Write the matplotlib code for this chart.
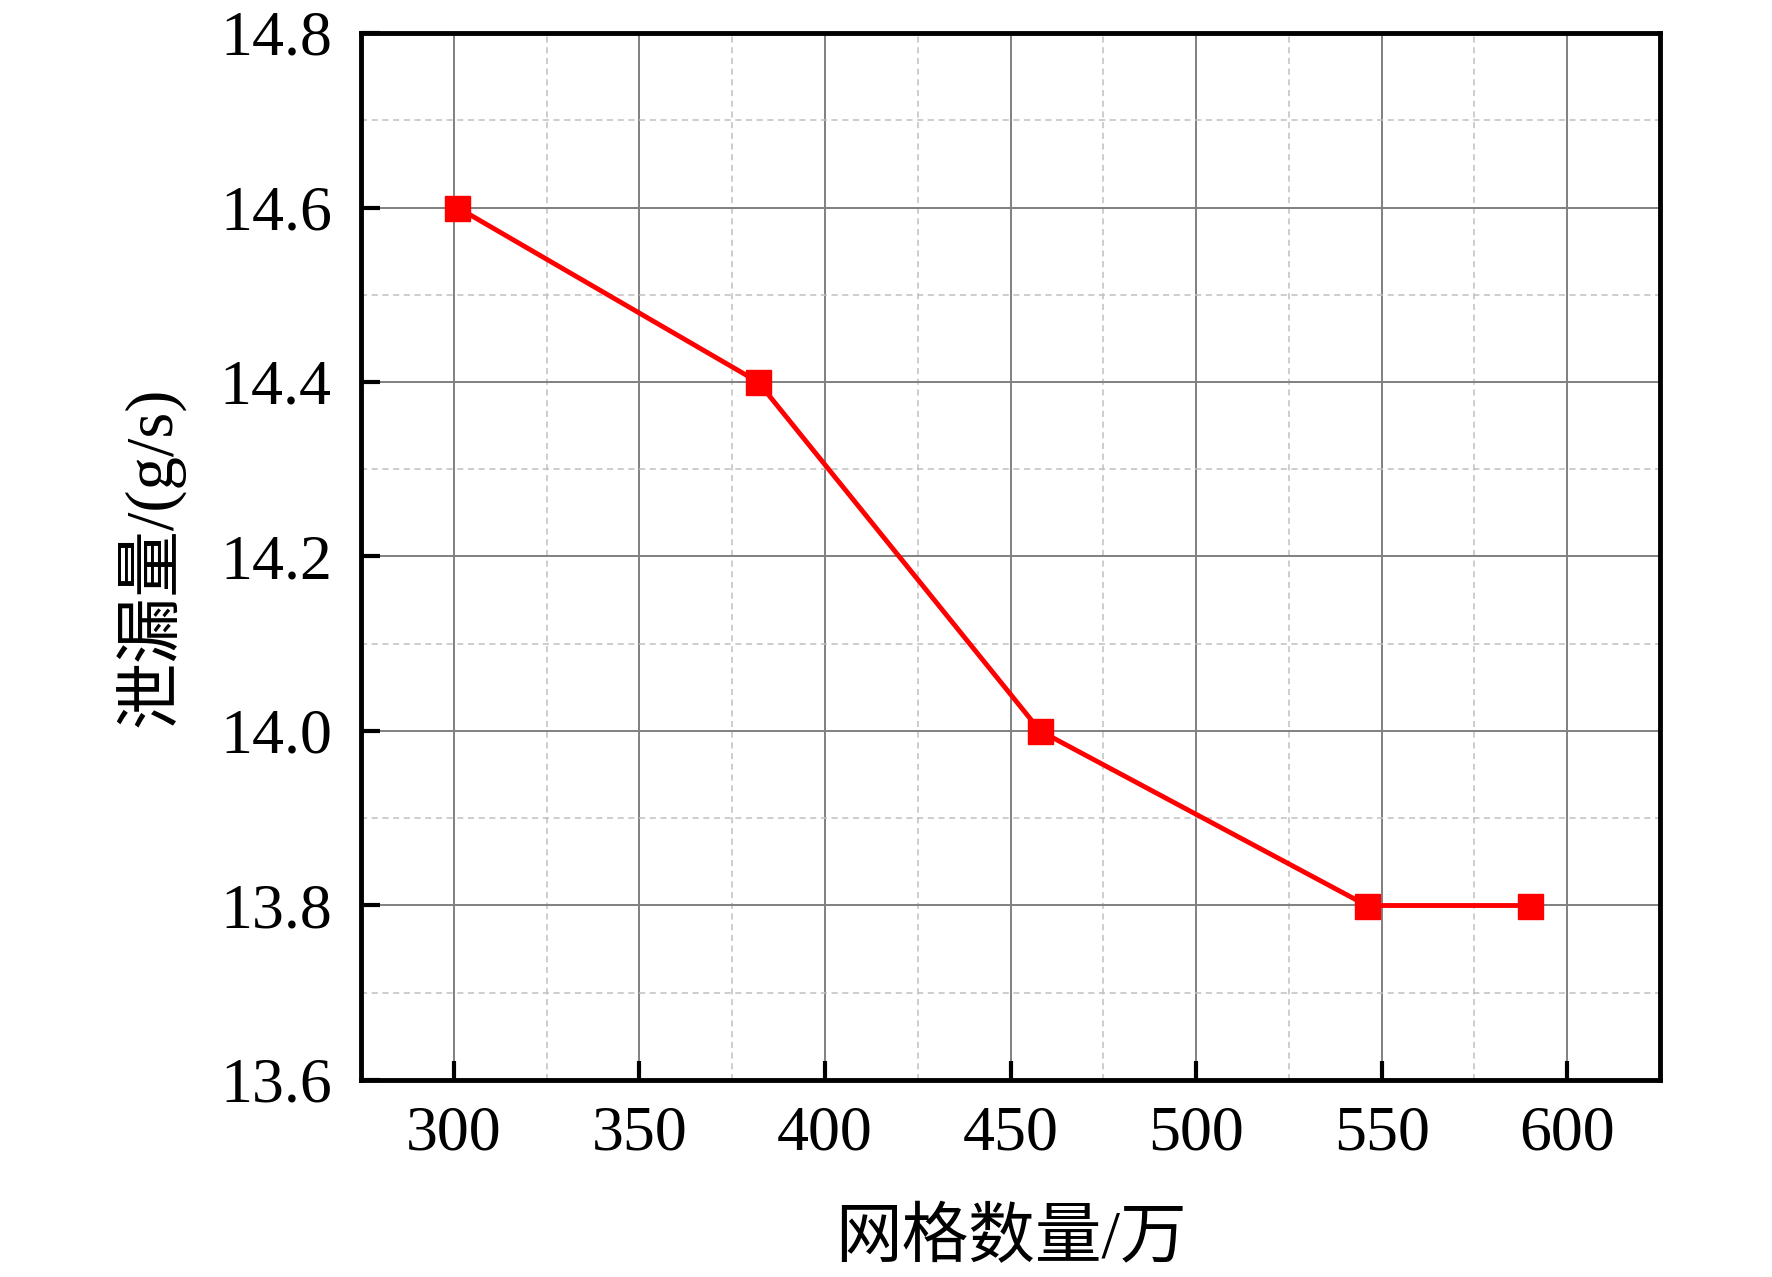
import matplotlib
matplotlib.use("Agg")
import matplotlib.pyplot as plt
from matplotlib.ticker import MultipleLocator, FormatStrFormatter

plt.rcParams['font.family'] = ['Liberation Serif', 'Noto Sans CJK SC', 'DejaVu Sans']

# data
grid_counts = [301, 382, 458, 546, 590]      # 网格数量/万
leakage = [14.6, 14.4, 14.0, 13.8, 13.8]     # 泄漏量/(g/s)
x_label = '网格数量/万'
y_label = '泄漏量/(g/s)'

fig = plt.figure(figsize=(17.72, 12.77), dpi=100)
ax = fig.add_axes([361/1772, 1 - 1080/1277, (1660-361)/1772, (1080-33)/1277])

ax.plot(grid_counts, leakage, color='#ff0000', lw=3.5, marker='s', ms=18,
        markerfacecolor='#ff0000', markeredgecolor='#ff0000', zorder=3)

ax.set_xlim(275, 625)
ax.set_ylim(13.6, 14.8)
ax.xaxis.set_major_locator(MultipleLocator(50))
ax.xaxis.set_minor_locator(MultipleLocator(25))
ax.yaxis.set_major_locator(MultipleLocator(0.2))
ax.yaxis.set_minor_locator(MultipleLocator(0.1))
ax.yaxis.set_major_formatter(FormatStrFormatter('%.1f'))

ax.grid(which='major', color='#808080', lw=1.4, ls='-', zorder=1)
ax.grid(which='minor', color='#c0c0c0', lw=1.1, ls=(0, (4, 3)), zorder=1)
ax.set_axisbelow(True)

for s in ax.spines.values():
    s.set_linewidth(3.5)
    s.set_color('black')

ax.tick_params(which='major', direction='in', length=14, width=3, top=False, right=False,
               labelsize=46, color='black')
ax.tick_params(axis='x', which='major', pad=18)
ax.tick_params(axis='y', which='major', pad=21)
ax.tick_params(which='minor', length=0)

ax.set_xlabel(x_label, fontsize=48)
ax.set_ylabel(y_label, fontsize=48)
ax.xaxis.label.set_va('center')
ax.yaxis.label.set_va('center')
ax.xaxis.set_label_coords(0.5, (1080-1240)/1047)
ax.yaxis.set_label_coords((150-361)/1299, 0.5)

fig.savefig('out.png', dpi=100)
